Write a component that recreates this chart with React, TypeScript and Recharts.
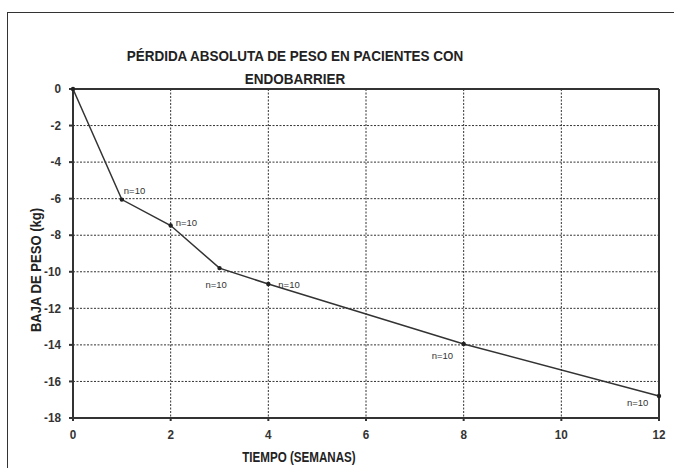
import { LineChart, Line, XAxis, YAxis, CartesianGrid, ReferenceLine, LabelList } from 'recharts'

const weeks = [0, 1, 2, 3, 4, 8, 12]
const weightLoss = [0, -6.05, -7.47, -9.8, -10.67, -13.95, -16.8]
const sampleLabels = ['', 'n=10', 'n=10', 'n=10', 'n=10', 'n=10', 'n=10']
const xTicks = [0, 2, 4, 6, 8, 10, 12]
const yTicks = [0, -2, -4, -6, -8, -10, -12, -14, -16, -18]

const data = weeks.map((w, i) => ({ week: w, loss: weightLoss[i], label: sampleLabels[i] }))

const FONT = '"Liberation Sans", Arial, sans-serif'

// donde va cada "n=10" respecto a su punto
const labelOffset: Record<number, [number, number]> = {
  1: [2, -6],
  2: [5, 0],
  3: [-14, 20],
  4: [10, 4],
  5: [-32, 15],
  6: [-32, 10],
}

function PointLabel(props: any) {
  const { x, y, value, index } = props
  if (!value) return null
  const [dx, dy] = labelOffset[index] || [0, 0]
  return (
    <text x={x + dx} y={y + dy} fontSize={9.5} fill="#333" fontFamily={FONT}>
      {value}
    </text>
  )
}

function Dot(props: any) {
  const { cx, cy } = props
  return <circle cx={cx} cy={cy} r={2.2} fill="#222" />
}

// etiqueta de eje algo estrecha, como Arial Narrow
function NarrowTick(props: any) {
  const { x, y, payload, textAnchor, dx = 0, dy = 0 } = props
  return (
    <g transform={`translate(${x + dx},${y + dy}) scale(0.9,1)`}>
      <text x={0} y={0} textAnchor={textAnchor} dominantBaseline="central" fontSize={13} fontWeight="bold" fill="#333" fontFamily={FONT}>
        {payload.value}
      </text>
    </g>
  )
}

const boldLabel = {
  position: 'absolute' as const,
  whiteSpace: 'nowrap' as const,
  fontFamily: FONT,
  fontWeight: 'bold' as const,
  color: '#222',
}

export default function App() {
  return (
    <div style={{ position: 'absolute', left: 0, top: 0, width: 674, height: 468, background: '#fff', overflow: 'hidden' }}>
      <div style={{ position: 'absolute', left: 7, top: 12, width: 680, height: 470, border: '1.5px solid #333' }} />
      <div
        style={{
          ...boldLabel,
          left: 95,
          width: 400,
          top: 44,
          textAlign: 'center',
          fontSize: 15.5,
          lineHeight: '23px',
          transform: 'scaleX(0.87)',
        }}
      >
        PÉRDIDA ABSOLUTA DE PESO EN PACIENTES CON
        <br />
        ENDOBARRIER
      </div>
      <div
        style={{
          ...boldLabel,
          left: 36,
          top: 270,
          fontSize: 14.5,
          transform: 'translate(-50%, -50%) rotate(-90deg) scaleX(0.9)',
        }}
      >
        BAJA DE PESO (kg)
      </div>
      <div
        style={{
          ...boldLabel,
          left: 299,
          top: 457,
          fontSize: 14.5,
          transform: 'translate(-50%, -50%) scaleX(0.8)',
        }}
      >
        TIEMPO (SEMANAS)
      </div>
      <div style={{ position: 'absolute', left: 0, top: 0 }}>
        <LineChart width={674} height={468} data={data} margin={{ top: 89, right: 15, bottom: 20, left: 0 }}>
          <CartesianGrid stroke="#333" strokeDasharray="2 1.5" strokeWidth={1} />
          <XAxis
            dataKey="week"
            type="number"
            domain={[0, 12]}
            ticks={xTicks}
            height={30}
            stroke="#333"
            strokeWidth={2}
            tickSize={3}
            tick={<NarrowTick dy={12} />}
          />
          <YAxis
            type="number"
            domain={[-18, 0]}
            ticks={yTicks}
            width={73}
            stroke="#333"
            strokeWidth={2}
            tickSize={4}
            tick={<NarrowTick dx={-6} />}
          />
          <ReferenceLine y={0} stroke="#333" strokeWidth={2} />
          <ReferenceLine x={12} stroke="#333" strokeWidth={2} />
          <Line
            type="linear"
            dataKey="loss"
            stroke="#333"
            strokeWidth={1.5}
            dot={<Dot />}
            isAnimationActive={false}
          >
            <LabelList dataKey="label" content={<PointLabel />} />
          </Line>
        </LineChart>
      </div>
    </div>
  )
}
